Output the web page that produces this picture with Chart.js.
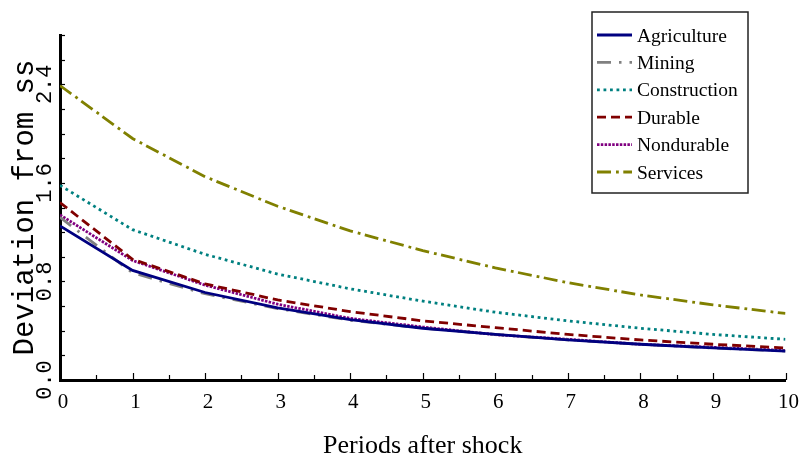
<!DOCTYPE html>
<html>
<head>
<meta charset="utf-8">
<script src="https://cdn.jsdelivr.net/npm/chart.js@4.4.0/dist/chart.umd.min.js"></script>
<style>
html,body{margin:0;padding:0;background:#fff;}
#wrap{width:806px;height:463px;}
</style>
</head>
<body>
<div id="wrap"><canvas id="c" width="806" height="463"></canvas></div>
<script>
// ---- data ----
const periods = [0, 1, 2, 3, 4, 5, 6, 7, 8, 9, 10];
const xTickLabels = ['0', '1', '2', '3', '4', '5', '6', '7', '8', '9', '10'];
const yTickLabels = ['0.0', '0.8', '1.6', '2.4'];
const seriesNames = ['Agriculture', 'Mining', 'Construction', 'Durable', 'Nondurable', 'Services'];
const agriculture  = [1.25, 0.89, 0.71, 0.585, 0.49, 0.42, 0.37, 0.325, 0.29, 0.26, 0.235];
const mining       = [1.32, 0.87, 0.70, 0.58, 0.485, 0.42, 0.37, 0.325, 0.29, 0.26, 0.235];
const construction = [1.58, 1.22, 1.02, 0.86, 0.74, 0.64, 0.55, 0.48, 0.42, 0.37, 0.33];
const durable      = [1.44, 0.98, 0.78, 0.65, 0.555, 0.48, 0.425, 0.37, 0.325, 0.29, 0.26];
const nondurable   = [1.34, 0.97, 0.77, 0.615, 0.50, 0.43, 0.368, 0.33, 0.29, 0.265, 0.24];
const services     = [2.39, 1.96, 1.65, 1.41, 1.21, 1.05, 0.91, 0.79, 0.69, 0.61, 0.54];
const xTitle = 'Periods after shock';
const yTitle = 'Deviation from ss';

// ---- styles ----
const seriesValues = [agriculture, mining, construction, durable, nondurable, services];
const colors = ['#000080', '#808080', '#008080', '#800000', '#800080', '#808000'];
const dashes = [[], [14, 8, 2.5, 8], [2.8, 3.7], [9, 5], [2.5, 1.3], [14, 5, 2.8, 4.5]];

const datasets = seriesNames.map((name, i) => ({
  label: name,
  data: periods.map((p, j) => ({ x: p, y: seriesValues[i][j] })),
  borderColor: colors[i],
  backgroundColor: colors[i],
  borderWidth: 2.8,
  borderDash: dashes[i],
  borderCapStyle: 'butt',
  pointRadius: 0,
  tension: 0,
  fill: false
}));

const ticksAndLegend = {
  id: 'ticksAndLegend',
  afterDraw(chart) {
    const { ctx, chartArea, scales } = chart;
    const xs = scales.x, ys = scales.y;
    ctx.save();
    ctx.strokeStyle = '#000';
    ctx.lineWidth = 1.2;
    xs.ticks.forEach(t => {
      if (t.value <= 0) return;
      const px = Math.round(xs.getPixelForValue(t.value)) + 0.5;
      const major = Math.abs(t.value - Math.round(t.value)) < 1e-6;
      ctx.beginPath();
      ctx.moveTo(px, chartArea.bottom);
      ctx.lineTo(px, chartArea.bottom - (major ? 7 : 5));
      ctx.stroke();
    });
    ys.ticks.forEach(t => {
      if (t.value <= 0) return;
      const py = Math.round(ys.getPixelForValue(t.value)) + 0.5;
      ctx.beginPath();
      ctx.moveTo(chartArea.left, py);
      ctx.lineTo(chartArea.left + 5, py);
      ctx.stroke();
    });

    // legend box
    const bx = 592, by = 12, bw = 156, bh = 181;
    ctx.fillStyle = '#fff';
    ctx.fillRect(bx, by, bw, bh);
    ctx.strokeStyle = '#222';
    ctx.lineWidth = 1.5;
    ctx.strokeRect(bx, by, bw, bh);
    ctx.font = '19.5px "Liberation Serif", "Times New Roman", serif';
    ctx.textBaseline = 'middle';
    ctx.textAlign = 'left';
    chart.data.datasets.forEach((ds, i) => {
      const y = 35 + i * 27.4;
      ctx.save();
      ctx.strokeStyle = ds.borderColor;
      ctx.lineWidth = ds.borderWidth;
      ctx.setLineDash(ds.borderDash || []);
      ctx.lineCap = 'butt';
      ctx.beginPath();
      ctx.moveTo(597, y);
      ctx.lineTo(632, y);
      ctx.stroke();
      ctx.restore();
      ctx.fillStyle = '#000';
      ctx.fillText(ds.label, 637, y + 1.5);
    });
    ctx.restore();
  }
};

new Chart(document.getElementById('c'), {
  type: 'line',
  data: { datasets },
  plugins: [ticksAndLegend],
  options: {
    responsive: false,
    animation: false,
    layout: { padding: { top: 35, right: 14, bottom: 0, left: 0 } },
    plugins: { legend: { display: false }, tooltip: { enabled: false } },
    scales: {
      x: {
        type: 'linear',
        min: 0,
        max: 10,
        afterFit(scale) { scale.height = 83; },
        border: { display: true, color: '#000', width: 3 },
        grid: { display: false, drawTicks: false },
        ticks: {
          stepSize: 0.5,
          autoSkip: false,
          maxRotation: 0,
          padding: 10,
          labelOffset: 3,
          color: '#000',
          font: { family: '"Liberation Serif", "Times New Roman", serif', size: 21 },
          callback(v) {
            const i = periods.findIndex(p => Math.abs(p - v) < 1e-6);
            return i >= 0 ? xTickLabels[i] : '';
          }
        },
        title: {
          display: true,
          text: xTitle,
          color: '#000',
          font: { family: '"Liberation Serif", "Times New Roman", serif', size: 26 },
          padding: { top: 0, bottom: 1 }
        }
      },
      y: {
        type: 'linear',
        min: 0,
        max: 2.8,
        afterFit(scale) { scale.width = 60; },
        border: { display: true, color: '#000', width: 3 },
        grid: { display: false, drawTicks: false },
        ticks: {
          stepSize: 0.2,
          autoSkip: false,
          minRotation: 90,
          maxRotation: 90,
          crossAlign: 'center',
          padding: -5,
          color: '#000',
          font: { family: '"Liberation Mono", "Courier New", monospace', size: 22 },
          callback(v) {
            const i = yTickLabels.findIndex(l => Math.abs(parseFloat(l) - v) < 1e-6);
            return i >= 0 ? yTickLabels[i] : '';
          }
        },
        title: {
          display: true,
          text: yTitle,
          color: '#000',
          font: { family: '"Liberation Mono", "Courier New", monospace', size: 29 },
          padding: { top: 8, bottom: 0 }
        }
      }
    }
  }
});
</script>
</body>
</html>
